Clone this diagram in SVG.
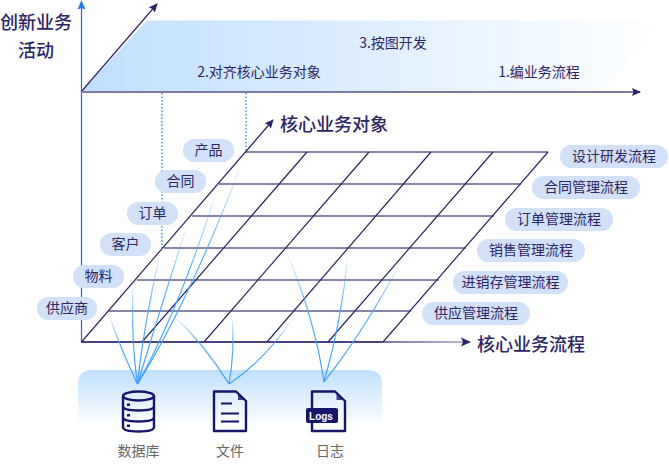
<svg xmlns="http://www.w3.org/2000/svg" width="669" height="467" viewBox="0 0 669 467">
<style>
text{font-family:"Noto Sans CJK SC","Liberation Sans",sans-serif;fill:#2b2466;text-anchor:middle}
.t14{font-size:14px}.t18{font-size:18px;font-weight:500}
.g{font-size:14px;fill:#666}
.pill{fill:#d3e1f8}
.h{stroke:#8a84ab;stroke-width:2;fill:none}
.d{stroke:#2b2466;stroke-width:1.2;fill:none}
.dot{stroke:#0f7be6;stroke-width:1.2;stroke-dasharray:1.5 2;fill:none}
.ic{fill:none;stroke:#17146b;stroke-width:2.4;stroke-linejoin:round}
</style>
<defs>
<linearGradient id="top" x1="0" x2="1" y1="0" y2="0"><stop offset="0" stop-color="#bfdfff"/><stop offset="1" stop-color="#fff"/></linearGradient>
<linearGradient id="base" x1="0" x2="0" y1="0" y2="1"><stop offset="0" stop-color="#c0e0ff"/><stop offset="0.8" stop-color="#fff"/></linearGradient>
<linearGradient id="fade" gradientUnits="userSpaceOnUse" x1="382" x2="468" y1="0" y2="0"><stop offset="0" stop-color="#4a4387"/><stop offset="1" stop-color="#a9a5c4"/></linearGradient>
<linearGradient id="bl" x1="0" x2="0" y1="0" y2="1"><stop offset="0" stop-color="#4da6ff" stop-opacity="0"/><stop offset="0.4" stop-color="#4da6ff" stop-opacity=".9"/><stop offset="1" stop-color="#3f9eff"/></linearGradient>
<marker id="ad" markerWidth="10" markerHeight="10" refX="8" refY="4" orient="auto" markerUnits="userSpaceOnUse"><path d="M0 0L9 4L0 8L1.5 4Z" fill="#2b2466"/></marker>
</defs>

<g id="top-plane">
<path d="M81 92L147 20.5H667L602 92Z" fill="url(#top)"/>
</g>
<g id="source-panel"><path d="M78 384Q78 370 92 370H368Q382 370 382 384V440H78Z" fill="url(#base)"/></g>

<g id="connectors">
<path d="M81.5 342V3" stroke="#1a6fd0" stroke-width="1.2" fill="none"/>
<path d="M81.5 0L85.500 9.500L81.500 8L77.500 9.500Z" fill="#1a7ee0"/>
<path d="M81 92L157 4" class="d" marker-end="url(#ad)"/>
<path d="M81 92H640" stroke="#7f79a5" stroke-width="2" fill="none" marker-end="url(#ad)"/>
<path d="M162 93V248M246 93V152" class="dot"/>
<path class="h" d="M246 152H548M219 184H521M192 216H494M164 248H466M137 280H439M109 311H411"/>
<path d="M81 342H382" stroke="#4a4387" stroke-width="2.2" fill="none"/>
<path d="M382 342H470" stroke="url(#fade)" stroke-width="1.6" fill="none"/>
<path d="M461 337.500L471 342L461 346.500L463 342Z" fill="#2b2466"/>
<path class="d" d="M81.5 342L273 120" marker-end="url(#ad)"/>
<path class="d" d="M142 342L307 152M204 342L369 152M267 342L431 152M328 342L493 152M383 342L548 152"/>
<g stroke="url(#bl)" stroke-width="1.2" fill="none">
<path d="M109 315Q122 352 137.500 384"/>
<path d="M133 283Q131 340 137.500 384"/>
<path d="M160.700 250Q143 330 137.500 384"/>
<path d="M188 222Q157 320 137.500 384"/>
<path d="M217 190Q179 310 137.500 384"/>
<path d="M243 160Q190 300 137.500 384"/>
<path d="M173 315Q205 345 229 384"/>
<path d="M232 315Q235 350 229 384"/>
<path d="M293 318Q265 360 229 384"/>
<path d="M287 253Q315 320 324 382"/>
<path d="M348 253Q342 320 324 382"/>
<path d="M403 258Q365 330 324 382"/>
</g>
</g>

<g id="axis-y-label"><text class="t18" x="36" y="29">创新业务</text><text class="t18" x="36" y="57">活动</text></g>
<g id="axis-x-label"><text class="t18" x="531" y="351">核心业务流程</text></g>
<g id="axis-z-label"><text class="t18" x="334" y="131">核心业务对象</text></g>
<g id="step-3"><text class="t14" x="393" y="48">3.按图开发</text></g>
<g id="step-2"><text class="t14" x="259" y="77">2.对齐核心业务对象</text></g>
<g id="step-1"><text class="t14" x="539" y="77">1.编业务流程</text></g>

<g id="obj-1"><rect class="pill" x="183" y="139" width="51" height="23" rx="11.500"/><text class="t14" x="208.500" y="155">产品</text></g>
<g id="obj-2"><rect class="pill" x="155" y="170" width="51" height="23" rx="11.500"/><text class="t14" x="180.500" y="186">合同</text></g>
<g id="obj-3"><rect class="pill" x="127" y="202" width="51" height="23" rx="11.500"/><text class="t14" x="152.500" y="218">订单</text></g>
<g id="obj-4"><rect class="pill" x="100" y="233" width="51" height="23" rx="11.500"/><text class="t14" x="125.500" y="249">客户</text></g>
<g id="obj-5"><rect class="pill" x="73" y="265" width="51" height="23" rx="11.500"/><text class="t14" x="98.500" y="281">物料</text></g>
<g id="obj-6"><rect class="pill" x="37" y="297" width="60" height="23" rx="11.500"/><text class="t14" x="67" y="313">供应商</text></g>

<g id="flow-1"><rect class="pill" x="560" y="145" width="108" height="23" rx="11.500"/><text class="t14" x="614" y="161">设计研发流程</text></g>
<g id="flow-2"><rect class="pill" x="532" y="176" width="108" height="23" rx="11.500"/><text class="t14" x="586" y="192">合同管理流程</text></g>
<g id="flow-3"><rect class="pill" x="505" y="208" width="108" height="23" rx="11.500"/><text class="t14" x="559" y="224">订单管理流程</text></g>
<g id="flow-4"><rect class="pill" x="477" y="239" width="108" height="23" rx="11.500"/><text class="t14" x="531" y="255">销售管理流程</text></g>
<g id="flow-5"><rect class="pill" x="453" y="271" width="115" height="23" rx="11.500"/><text class="t14" x="510.500" y="287">进销存管理流程</text></g>
<g id="flow-6"><rect class="pill" x="422" y="302" width="108" height="23" rx="11.500"/><text class="t14" x="476" y="318">供应管理流程</text></g>

<g id="database">
<ellipse class="ic" cx="138.500" cy="396" rx="15.500" ry="4.500"/>
<path class="ic" d="M123 396V427Q123 431.500 138.500 431.500T154 427V396M123 406Q123 410.500 138.500 410.500T154 406M123 417Q123 421.500 138.500 421.500T154 417"/>
<path d="M127 403.500h3v2.500h-3zM127 414h3v2.500h-3zM127 424.500h3v2.500h-3z" fill="#17146b"/>
<text class="g" x="138.500" y="456">数据库</text>
</g>
<g id="file">
<path class="ic" d="M214 391.500H236L246 401V431H214Z"/>
<path d="M238 393.500V400H245Z" fill="#17146b" opacity=".8"/>
<path d="M221 403.500H232M221 413.500H239M221 421.500H239" stroke="#17146b" stroke-width="1.800" fill="none"/>
<text class="g" x="230" y="456">文件</text>
</g>
<g id="logs">
<path class="ic" d="M312 391.500H335L345 401V431H312Z"/>
<path d="M336.500 393.500V400H343.500Z" fill="#17146b" opacity=".8"/>
<rect x="306" y="408" width="32" height="15" rx="2" fill="#17146b"/>
<text x="321" y="420" style="font-family:'Liberation Sans',sans-serif;fill:#fff;font-size:10px;font-weight:bold">Logs</text>
<text class="g" x="330" y="456">日志</text>
</g>
</svg>
